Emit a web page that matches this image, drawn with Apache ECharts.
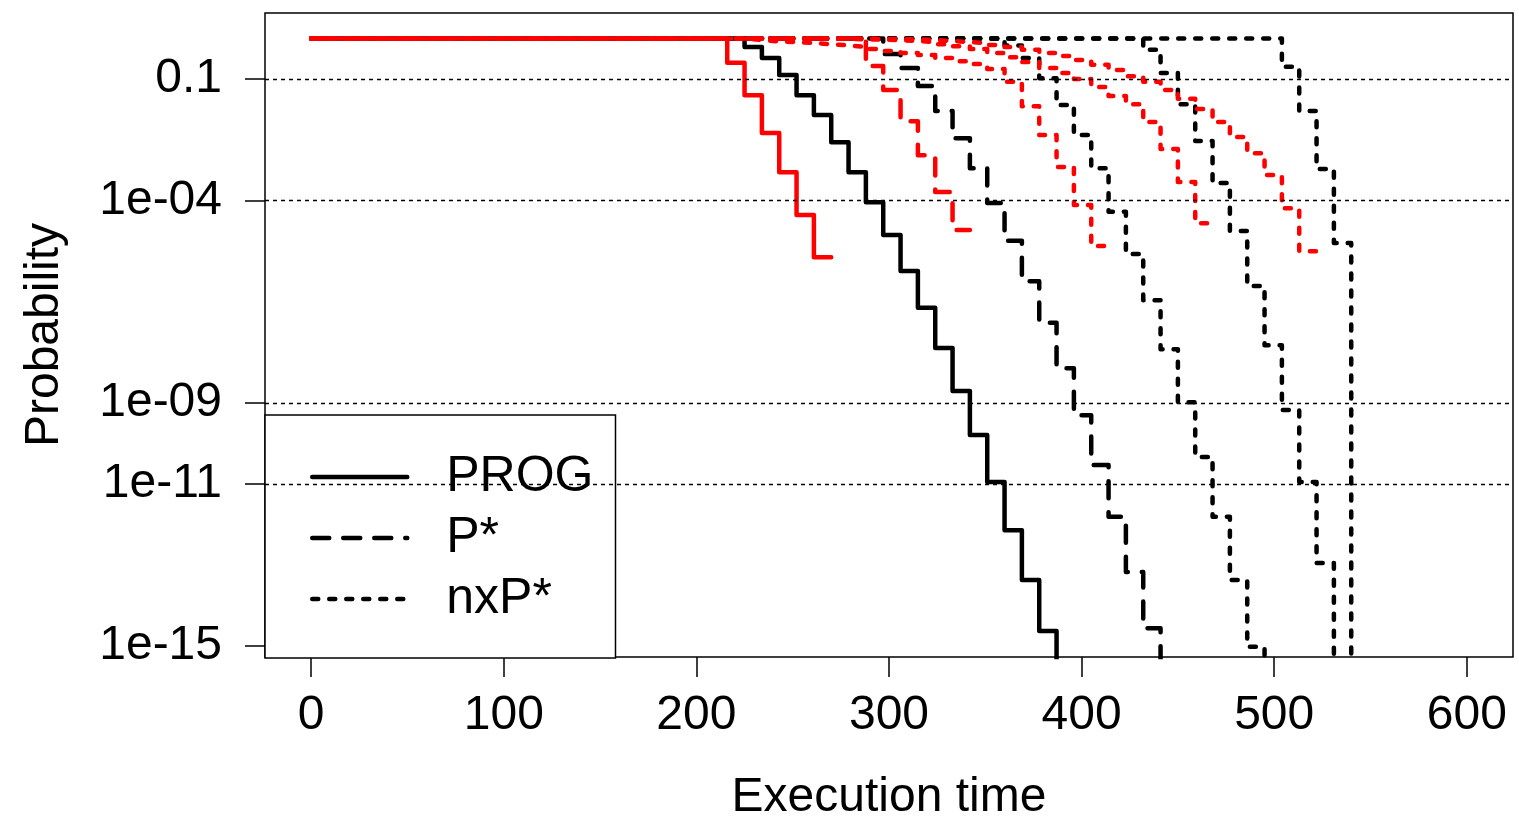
<!DOCTYPE html>
<html>
<head>
<meta charset="utf-8">
<title>Execution time exceedance</title>
<script src="https://cdn.jsdelivr.net/npm/echarts@6.0.0/dist/echarts.min.js"></script>
<style>
  html, body { margin: 0; padding: 0; background: #fff; }
  #chart { width: 1519px; height: 822px; }
</style>
</head>
<body>
<div id="chart"></div>
<script>
// execution time steps (x) and log10 of exceedance probability (y)
// black = estimate, red = observed
var progX = [0, 225, 234, 243, 252, 261, 270, 279, 288, 297, 306, 315, 324, 333, 342, 351, 360, 369, 378, 387]
var progP = [0, -0.21, -0.48, -0.90, -1.40, -1.89, -2.56, -3.30, -4.04, -4.85, -5.74, -6.65, -7.64, -8.70, -9.79, -10.95, -12.14, -13.37, -14.63, -16.5]

var progRedX = [0, 216, 225, 234, 243, 252, 261, 270]
var progRedP = [0, -0.60, -1.40, -2.33, -3.30, -4.36, -5.40, -5.40]

var pstarX = [0, 297, 306, 315, 324, 333, 342, 351, 360, 369, 378, 387, 396, 405, 414, 423, 432, 441]
var pstarP = [0, -0.38, -0.73, -1.17, -1.79, -2.46, -3.20, -4.06, -4.99, -5.99, -7.02, -8.14, -9.30, -10.53, -11.81, -13.17, -14.56, -16.5]

var pstarRedX = [0, 288, 297, 306, 315, 324, 333, 342]
var pstarRedP = [0, -0.68, -1.27, -2.04, -2.88, -3.79, -4.73, -4.73]

var nx1X = [0, 360, 369, 378, 387, 396, 405, 414, 423, 432, 441, 450, 459, 468, 477, 486, 495]
var nx1P = [0, -0.17, -0.48, -0.98, -1.64, -2.38, -3.20, -4.28, -5.32, -6.46, -7.67, -8.98, -10.33, -11.81, -13.37, -15.02, -16.5]

var nx2X = [0, 432, 441, 450, 459, 468, 477, 486, 495, 504, 513, 522, 531]
var nx2P = [0, -0.28, -0.85, -1.62, -2.53, -3.57, -4.75, -6.11, -7.57, -9.17, -10.95, -12.95, -16.5]

var nx3X = [0, 504, 513, 522, 531, 540]
var nx3P = [0, -0.70, -1.79, -3.22, -5.05, -16.5]

var nx1RedX = [0, 225, 234, 243, 252, 261, 270, 279, 288, 297, 306, 315, 324, 333, 342, 351, 360, 369, 378, 387, 396, 405, 414]
var nx1RedP = [0, -0.04, -0.07, -0.09, -0.11, -0.14, -0.17, -0.21, -0.26, -0.31, -0.36, -0.41, -0.48, -0.56, -0.63, -0.75, -1.07, -1.67, -2.38, -3.17, -4.11, -5.12, -5.12]

var nx2RedX = [0, 270, 288, 306, 315, 324, 333, 342, 351, 360, 369, 378, 387, 396, 405, 414, 423, 432, 441, 450, 459, 468]
var nx2RedP = [0, -0.02, -0.04, -0.06, -0.09, -0.14, -0.19, -0.26, -0.36, -0.46, -0.58, -0.73, -0.85, -1.00, -1.20, -1.42, -1.62, -2.06, -2.73, -3.54, -4.56, -4.56]

var nx3RedX = [0, 288, 315, 324, 333, 342, 351, 360, 369, 378, 387, 396, 405, 414, 423, 432, 441, 450, 459, 468, 477, 486, 495, 504, 513, 522]
var nx3RedP = [0, -0.02, -0.04, -0.06, -0.09, -0.11, -0.16, -0.21, -0.28, -0.36, -0.43, -0.53, -0.65, -0.78, -0.93, -1.07, -1.27, -1.49, -1.74, -2.06, -2.43, -2.83, -3.37, -4.19, -5.25, -5.25]

var xTicks = [0, 100, 200, 300, 400, 500, 600]
var yTickVals = [-15, -11, -9, -4, -1]
var yTickLabels = ['1e-15', '1e-11', '1e-09', '1e-04', '0.1']
var gridVals = [-1, -4, -9, -11]

var FONT = '"Liberation Sans", Arial, sans-serif'
var LW = 4.5
var DASHED = [17, 14]
var DOTTED = [6, 11]

function stepLine(name, xs, ps, color, dash) {
  return {
    name: name,
    type: 'line',
    step: 'end',
    symbol: 'none',
    showSymbol: false,
    silent: true,
    color: color,
    lineStyle: { color: color, width: LW, type: dash || 'solid', cap: 'round', join: 'round' },
    data: xs.map(function(x, i) { return [x, ps[i]] })
  }
}

var series = [
  stepLine('PROG', progX, progP, '#000000'),
  stepLine('P*', pstarX, pstarP, '#000000', DASHED),
  stepLine('nxP*', nx1X, nx1P, '#000000', DOTTED),
  stepLine('nxP*', nx2X, nx2P, '#000000', DOTTED),
  stepLine('nxP*', nx3X, nx3P, '#000000', DOTTED),
  stepLine('PROG obs', progRedX, progRedP, '#FF0000'),
  stepLine('P* obs', pstarRedX, pstarRedP, '#FF0000', DASHED),
  stepLine('nxP* obs 1', nx1RedX, nx1RedP, '#FF0000', DOTTED),
  stepLine('nxP* obs 2', nx2RedX, nx2RedP, '#FF0000', DOTTED),
  stepLine('nxP* obs 3', nx3RedX, nx3RedP, '#FF0000', DOTTED)
]

// horizontal reference lines
series[0].markLine = {
  silent: true,
  symbol: 'none',
  animation: false,
  label: { show: false },
  lineStyle: { color: '#000', width: 1.4, type: [4, 4] },
  data: gridVals.map(function(v) { return { yAxis: v } })
}

var option = {
  animation: false,
  backgroundColor: '#fff',
  grid: {
    left: 265, top: 13, right: 6, bottom: 165,
    outerBoundsMode: 'none',
    show: true, borderColor: '#000', borderWidth: 1.5
  },
  legend: {
    data: ['PROG', 'P*', 'nxP*'],
    orient: 'vertical',
    left: 265, top: 415,
    padding: [37, 22, 34, 45],
    itemWidth: 95, itemHeight: 14, itemGap: 11,
    backgroundColor: '#fff', borderColor: '#000', borderWidth: 1.5,
    selectedMode: false,
    itemStyle: { opacity: 0 },
    lineStyle: { width: LW },
    textStyle: { fontFamily: FONT, fontSize: 50, color: '#000', lineHeight: 50, padding: [0, 0, 0, 34] }
  },
  xAxis: {
    type: 'value',
    min: -24, max: 624,
    name: 'Execution time',
    nameLocation: 'middle',
    nameGap: 117,
    nameTextStyle: { fontFamily: FONT, fontSize: 48, color: '#000' },
    axisLine: { show: false, onZero: false },
    splitLine: { show: false },
    axisTick: { show: true, length: 20, lineStyle: { color: '#000', width: 1.5 }, customValues: xTicks },
    axisLabel: { fontFamily: FONT, fontSize: 48, color: '#000', margin: 35, customValues: xTicks }
  },
  yAxis: {
    type: 'value',
    min: -15.27, max: 0.63,
    name: 'Probability',
    nameLocation: 'middle',
    nameGap: 196,
    nameRotate: 90,
    nameTextStyle: { fontFamily: FONT, fontSize: 48, color: '#000' },
    axisLine: { show: false, onZero: false },
    splitLine: { show: false },
    axisTick: { show: true, length: 20, lineStyle: { color: '#000', width: 1.5 }, customValues: yTickVals },
    axisLabel: {
      fontFamily: FONT, fontSize: 48, color: '#000', margin: 43,
      customValues: yTickVals,
      formatter: function(v) {
        var i = yTickVals.indexOf(v)
        return i >= 0 ? yTickLabels[i] : ''
      }
    }
  },
  series: series
}

var chart = echarts.init(document.getElementById('chart'))
chart.setOption(option)
window.addEventListener('resize', function() { chart.resize() })
</script>
</body>
</html>
